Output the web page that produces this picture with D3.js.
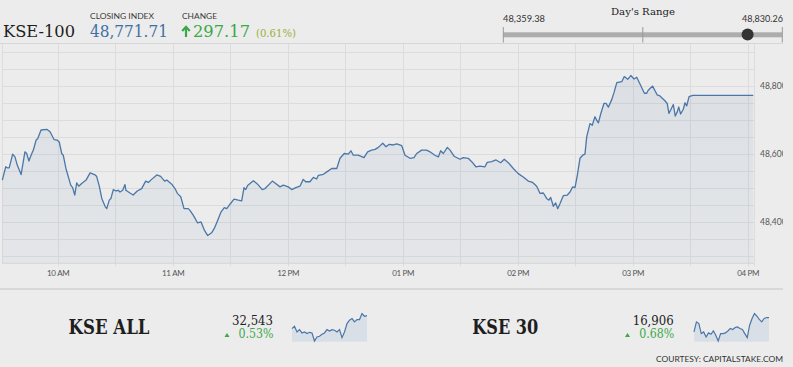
<!DOCTYPE html>
<html>
<head>
<meta charset="utf-8">
<script src="https://cdn.jsdelivr.net/npm/d3@7"></script>
<style>
html,body{margin:0;padding:0;background:#ececec;}
svg{display:block;}
</style>
</head>
<body>
<svg id="chart" width="793" height="367"></svg>
<script>
// ---------- DATA ----------
const minutesAfterOpen = [
1.1,2.9,3.7,4.7,6.5,7.7,8.9,10.9,12.9,13.8,
15.0,16.1,17.3,18.7,19.6,21.3,24.3,26.0,28.1,29.8,
30.8,32.1,32.9,34.3,36.8,37.8,38.9,39.9,41.0,42.5,
44.8,46.9,49.5,50.3,51.7,53.0,54.7,55.6,56.9,57.8,
59.0,60.4,61.6,62.5,63.9,65.1,65.6,67.7,69.4,71.5,
73.8,75.9,77.3,79.0,81.7,83.7,85.8,86.9,89.5,91.2,
92.4,94.2,95.9,98.1,99.0,100.7,103.0,104.8,106.5,108.3,
110.3,111.7,113.5,115.2,116.9,118.2,119.9,122.0,124.2,126.0,
127.2,128.1,129.1,132.1,134.3,136.7,138.2,142.0,143.7,146.0,
147.7,150.3,152.1,154.2,156.4,158.1,159.4,161.6,163.4,165.1,
166.0,168.6,170.4,173.0,175.6,177.3,179.5,181.6,183.0,184.2,
186.8,189.8,191.7,193.8,195.6,197.3,199.6,201.3,203.0,205.1,
206.9,209.5,211.2,213.8,215.9,217.3,219.9,222.5,224.2,226.8,
228.6,229.8,231.2,233.3,234.7,236.8,239.9,241.6,244.2,246.0,
248.2,250.3,252.9,254.1,256.4,258.7,261.1,263.0,265.1,267.7,
270.3,272.9,275.5,277.8,279.9,281.6,283.4,285.1,286.3,287.2,
288.6,289.8,290.9,292.1,293.8,295.9,297.3,298.7,299.9,301.1,
302.5,303.9,305.1,306.0,307.7,308.9,310.3,311.2,312.1,313.3,
315.0,316.1,317.3,319.1,320.2,321.7,324.3,325.6,327.4,329.0,
330.7,332.1,333.8,336.1,337.3,338.1,340.4,342.8,344.2,346.8,
348.0,348.9,350.0,351.2,352.2,353.3,354.0,355.0,356.4,357.3,
358.2,359.4,361.3,392.9
];
const kse100Values = [
48523,48562,48559,48559,48599,48591,48567,48539,48606,48601,
48579,48596,48611,48640,48645,48670,48672,48665,48642,48640,
48635,48601,48596,48557,48508,48501,48479,48515,48505,48513,
48523,48544,48538,48534,48505,48469,48446,48439,48464,48469,
48495,48491,48493,48488,48493,48510,48493,48485,48479,48491,
48498,48520,48516,48525,48538,48534,48520,48523,48511,48498,
48484,48474,48439,48439,48434,48420,48397,48400,48376,48360,
48368,48381,48405,48429,48442,48439,48452,48467,48464,48462,
48501,48495,48507,48521,48511,48495,48498,48520,48513,48503,
48508,48503,48495,48501,48505,48525,48518,48518,48531,48526,
48537,48540,48547,48557,48557,48587,48601,48599,48609,48596,
48596,48589,48606,48611,48613,48619,48631,48621,48628,48626,
48629,48624,48596,48587,48589,48601,48611,48611,48606,48596,
48591,48609,48601,48619,48611,48593,48584,48589,48587,48577,
48562,48564,48562,48575,48577,48582,48574,48584,48574,48557,
48542,48532,48520,48516,48505,48484,48485,48469,48464,48472,
48446,48456,48439,48454,48477,48479,48488,48503,48501,48537,
48587,48596,48599,48650,48689,48684,48709,48699,48691,48717,
48748,48748,48737,48760,48779,48809,48812,48827,48819,48830,
48820,48825,48805,48778,48778,48787,48799,48773,48770,48756,
48748,48719,48731,48745,48711,48724,48738,48717,48731,48750,
48741,48768,48771.71,48771.71
];
const xTickMinutes = [30, 90, 150, 210, 270, 330, 390];
const xTickLabels = ["10 AM","11 AM","12 PM","01 PM","02 PM","03 PM","04 PM"];
const yTickValues = [48400, 48600, 48800];
const yTickLabels = ["48,400","48,600","48,800"];

const closingIndex = 48771.71, closingLabel = "48,771.71";
const changeLabel = "297.17", changePctLabel = "(0.61%)";
const dayLow = 48359.38, dayHigh = 48830.26;
const dayLowLabel = "48,359.38", dayHighLabel = "48,830.26";

const kseAllValues = [32438,32457,32411,32430,32403,32411,32398,32408,32403,32338,32371,32376,32392,32403,32430,32419,32430,32425,32411,32430,32365,32411,32479,32506,32519,32492,32511,32511,32560,32538,32543];
const kse30Values = [16846,16888,16881,16839,16846,16825,16842,16836,16850,16832,16808,16839,16839,16842,16850,16860,16856,16864,16867,16860,16856,16839,16822,16874,16902,16923,16912,16898,16888,16902,16906,16906];
const bottomNames = ["KSE ALL", "KSE 30"];
const bottomValueLabels = ["32,543", "16,906"];
const bottomPctLabels = ["0.53%", "0.68%"];

// ---------- DRAW ----------
const svg = d3.select("#chart");
const SERIF = "'DejaVu Serif', serif";
const SANS = "Lato, 'Open Sans', sans-serif";
const GREEN = "#3aa948";
const LINE = "#4a77a8";

const defs = svg.append("defs");
defs.append("clipPath").attr("id","wclip").append("rect").attr("x",0).attr("y",0).attr("width",783).attr("height",367);
const grad = defs.append("linearGradient").attr("id","areaGrad").attr("gradientUnits","userSpaceOnUse")
  .attr("x1",0).attr("x2",0).attr("y1",43).attr("y2",263);
grad.append("stop").attr("offset","0").attr("stop-color","rgb(70,110,160)").attr("stop-opacity",0.11);
grad.append("stop").attr("offset","1").attr("stop-color","rgb(70,110,160)").attr("stop-opacity",0.05);

const root = svg.append("g").attr("clip-path","url(#wclip)");

const plotLeft = 2, plotRight = 754, plotTop = 43, plotBottom = 263.3;
const x = d3.scaleLinear().domain([0, 390]).range([0.2, 747.7]);
const y = d3.scaleLinear().domain([48278.5, 48925.6]).range([plotBottom, plotTop]);

// gridlines
const grid = root.append("g");
grid.selectAll("line.h").data(d3.range(48300, 48901, 50)).join("line")
  .attr("x1", plotLeft).attr("x2", plotRight)
  .attr("y1", d => Math.round(y(d))+0.5).attr("y2", d => Math.round(y(d))+0.5)
  .attr("stroke","#dcdcdc").attr("stroke-width",1);
grid.selectAll("line.v").data(d3.range(30, 391, 30)).join("line")
  .attr("x1", d => Math.round(x(d))+0.5).attr("x2", d => Math.round(x(d))+0.5)
  .attr("y1", plotTop).attr("y2", plotBottom+3)
  .attr("stroke","#dcdcdc").attr("stroke-width",1);
root.append("line").attr("x1",plotLeft+0.5).attr("x2",plotLeft+0.5).attr("y1",plotTop).attr("y2",plotBottom).attr("stroke","#dcdcdc");
root.append("line").attr("x1",plotRight+0.5).attr("x2",plotRight+0.5).attr("y1",plotTop).attr("y2",plotBottom+3).attr("stroke","#dcdcdc");
root.append("line").attr("x1",0).attr("x2",783).attr("y1",plotTop+0.5).attr("y2",plotTop+0.5).attr("stroke","#d6d6d6");
root.append("line").attr("x1",plotLeft).attr("x2",plotRight).attr("y1",plotBottom).attr("y2",plotBottom).attr("stroke","#d8d8d8");

const pts = minutesAfterOpen.map((m,i) => [m, kse100Values[i]]);
const area = d3.area().x(d => x(d[0])).y0(plotBottom).y1(d => y(d[1]));
const line = d3.line().x(d => x(d[0])).y(d => y(d[1]));
root.append("path").datum(pts).attr("d", area).attr("fill","url(#areaGrad)");
root.append("path").datum(pts).attr("d", line).attr("fill","none").attr("stroke",LINE).attr("stroke-width",1.3).attr("stroke-linejoin","round");

const xAxis = d3.axisBottom(x).tickValues(xTickMinutes).tickFormat((d,i) => xTickLabels[i]).tickSize(0).tickPadding(0);
const xg = root.append("g").attr("transform",`translate(0,${plotBottom+12.5})`).call(xAxis);
xg.select(".domain").remove();
xg.selectAll("text").attr("font-family",SANS).attr("font-size","8px").attr("fill","#555").attr("letter-spacing","-0.3px").attr("dy","0");

const yAxis = d3.axisRight(y).tickValues(yTickValues).tickFormat((d,i) => yTickLabels[i]).tickSize(0).tickPadding(0);
const yg = root.append("g").attr("transform","translate(760,0)").call(yAxis);
yg.select(".domain").remove();
yg.selectAll("text").attr("font-family",SANS).attr("font-size","8.5px").attr("fill","#555").attr("dy","0.32em");

// ---------- HEADER ----------
function txt(t, xp, yp, opts) {
  const e = root.append("text").attr("x",xp).attr("y",yp).text(t)
    .attr("font-family", opts.family || SERIF).attr("font-size", opts.size + "px")
    .attr("fill", opts.fill || "#222");
  if (opts.weight) e.attr("font-weight", opts.weight);
  if (opts.anchor) e.attr("text-anchor", opts.anchor);
  if (opts.len) e.attr("textLength", opts.len).attr("lengthAdjust","spacingAndGlyphs");
  return e;
}
txt("KSE-100", 3, 36.5, {size:16.5, fill:"#1e1e1e", len:72});
txt("CLOSING INDEX", 90, 18.5, {family:SANS, size:8, fill:"#3a3a3a", len:64});
txt(closingLabel, 90, 37, {size:17, fill:"#4170a6", len:78});
txt("CHANGE", 182, 18.5, {family:SANS, size:8, fill:"#3a3a3a", len:35});
// up arrow
root.append("path").attr("d","M186,37 L186,27 M182.2,31 L186,26.8 L189.8,31")
  .attr("fill","none").attr("stroke",GREEN).attr("stroke-width",2.2).attr("stroke-linecap","butt").attr("stroke-linejoin","miter");
txt(changeLabel, 193, 37, {size:17, fill:GREEN, len:57});
txt(changePctLabel, 256, 36.5, {size:10.5, fill:"#9bb03a", len:40});

// Day's range
const r = d3.scaleLinear().domain([dayLow, dayHigh]).range([503.3, 782.3]);
txt("Day's Range", 643, 14.5, {size:10, fill:"#222", anchor:"middle", len:64});
txt(dayLowLabel, 503, 22, {family:SANS, size:9, fill:"#333", len:42});
txt(dayHighLabel, 783, 22, {family:SANS, size:9, fill:"#333", anchor:"end", len:41});
root.append("rect").attr("x", r(dayLow)).attr("y",32.3).attr("width", r(dayHigh)-r(dayLow)).attr("height",5).attr("fill","#adadad");
[dayLow, (dayLow+dayHigh)/2, dayHigh].forEach(v => {
  root.append("line").attr("x1", r(v)).attr("x2", r(v)).attr("y1",27).attr("y2",42.5).attr("stroke","#9a9a9a").attr("stroke-width",1);
});
root.append("circle").attr("cx", r(closingIndex)).attr("cy",34.6).attr("r",6).attr("fill","#333");

// ---------- BOTTOM ----------
root.append("line").attr("x1",0).attr("x2",783).attr("y1",289).attr("y2",289).attr("stroke","#d2d2d2").attr("stroke-width",1.5);

const panels = [
  {name:bottomNames[0], nameX:68.5, nameLen:81, valueEnd:273, valueLabel:bottomValueLabels[0], pct:bottomPctLabels[0], triX:227, spark:kseAllValues, sx0:292, sx1:367},
  {name:bottomNames[1], nameX:472.3, nameLen:66, valueEnd:673.7, valueLabel:bottomValueLabels[1], pct:bottomPctLabels[1], triX:627.5, spark:kse30Values, sx0:694, sx1:769}
];
panels.forEach(p => {
  txt(p.name, p.nameX, 333.5, {size:19.5, weight:"bold", fill:"#1e1e1e", len:p.nameLen});
  txt(p.valueLabel, p.valueEnd, 324.5, {size:12.5, fill:"#222", anchor:"end", len:41});
  txt(p.pct, p.valueEnd + 0.5, 338, {size:12, fill:GREEN, anchor:"end", len:35});
  root.append("path").attr("d", `M${p.triX-2.5},337 L${p.triX+2.5},337 L${p.triX},333 Z`).attr("fill",GREEN);
  const sx = d3.scaleLinear().domain([0, p.spark.length-1]).range([p.sx0, p.sx1]);
  const sy = d3.scaleLinear().domain(d3.extent(p.spark)).range([341, 313.5]);
  const sBot = 341.7;
  root.append("path").datum(p.spark)
    .attr("d", d3.area().x((d,i)=>sx(i)).y0(sBot).y1(d=>sy(d))).attr("fill","#d9dfe6");
  root.append("path").datum(p.spark)
    .attr("d", d3.line().x((d,i)=>sx(i)).y(d=>sy(d))).attr("fill","none").attr("stroke",LINE).attr("stroke-width",1.2);
});
txt("COURTESY: CAPITALSTAKE.COM", 656, 362, {family:SANS, size:8, fill:"#333", len:127});
</script>
</body>
</html>
